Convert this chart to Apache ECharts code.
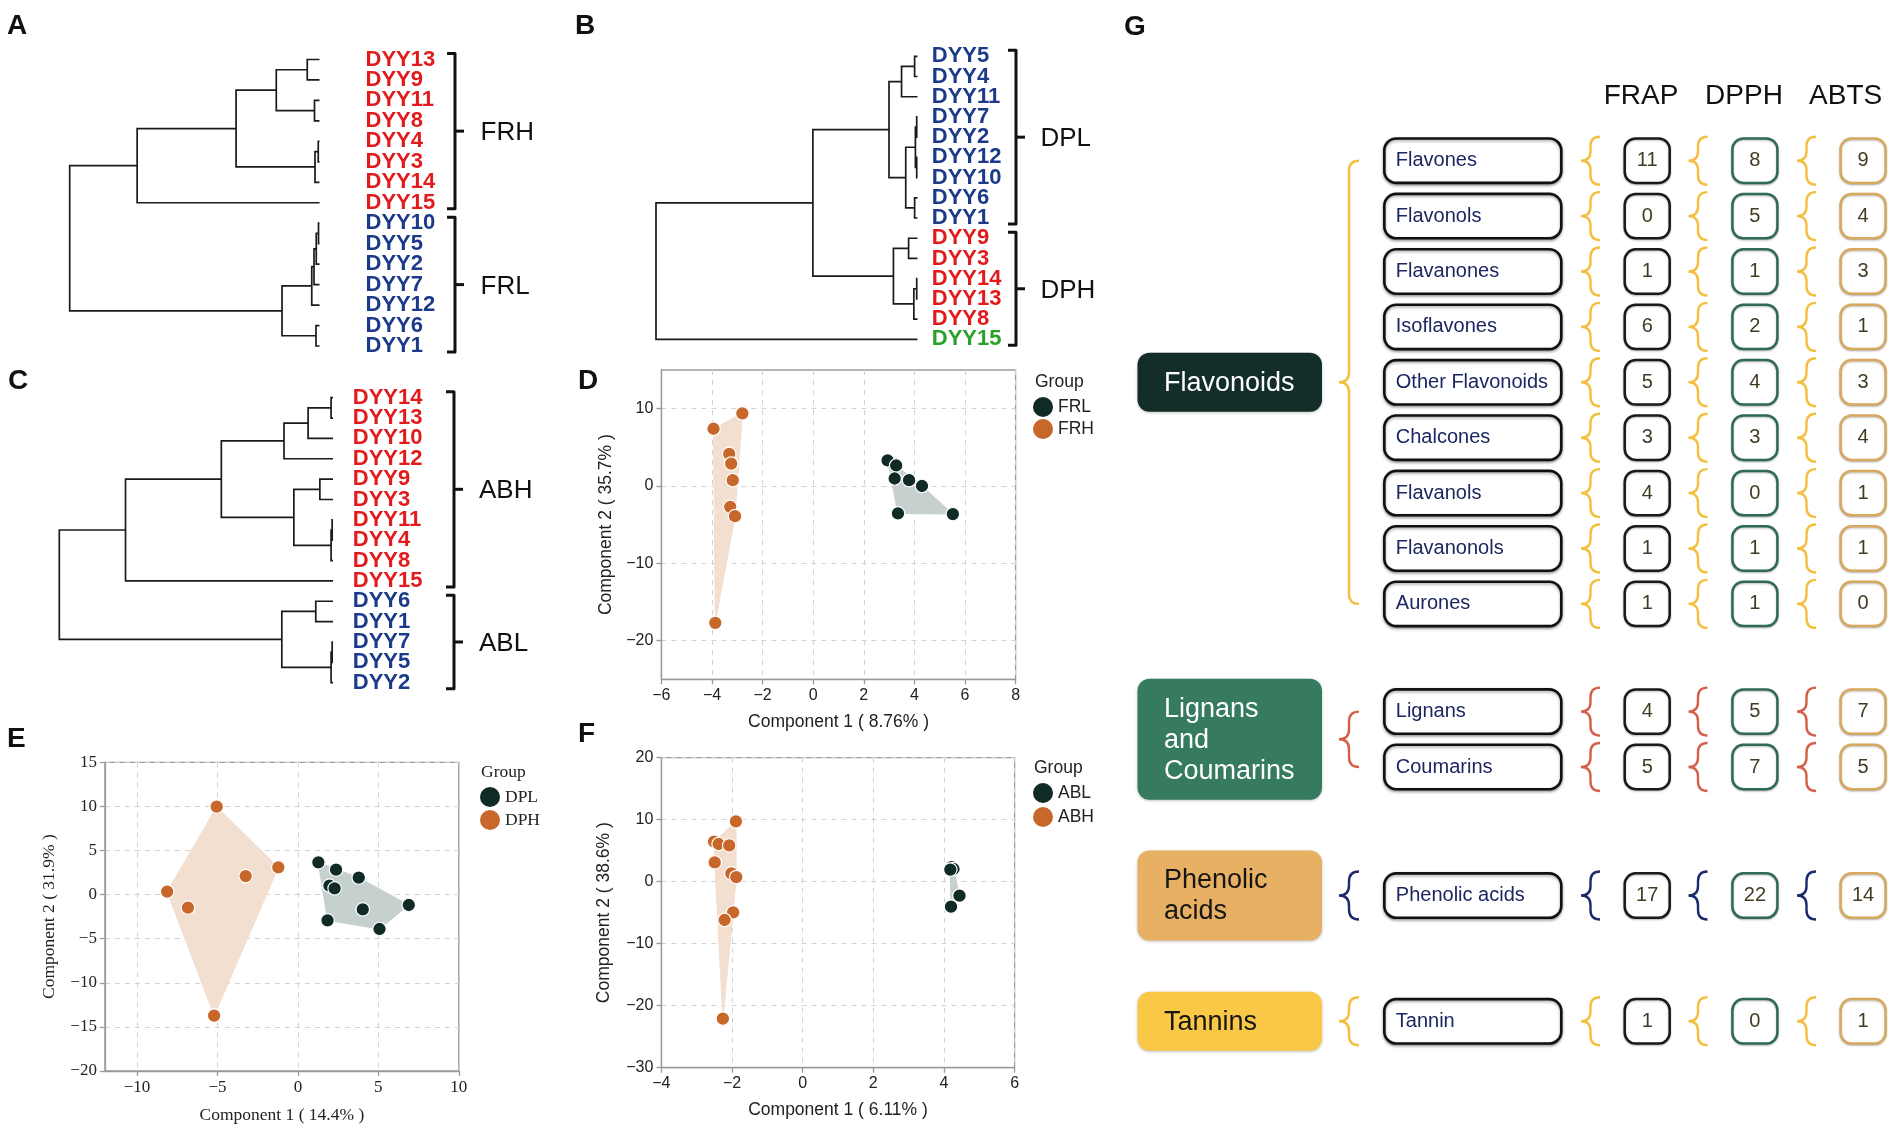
<!DOCTYPE html>
<html>
<head>
<meta charset="utf-8">
<script src="https://cdn.jsdelivr.net/npm/echarts@6.0.0/dist/echarts.min.js"></script>
<style>
html,body{margin:0;padding:0;background:#ffffff;}
#chart{width:1902px;height:1130px;}
</style>
</head>
<body>
<div id="chart"></div>
<script>
// ================= DATA =================
// Panel A : FRAP clustering
const aLeaves = ['DYY13','DYY9','DYY11','DYY8','DYY4','DYY3','DYY14','DYY15','DYY10','DYY5','DYY2','DYY7','DYY12','DYY6','DYY1'];
const aLeafClass = ['H','H','H','H','H','H','H','H','L','L','L','L','L','L','L'];
const aMerges = [['DYY13','DYY9',4.9],['DYY11','DYY8',2.0],[0,1,17.3],['DYY4','DYY3',0.5],[3,'DYY14',1.8],[2,4,33.4],[5,'DYY15',73.0],
                 ['DYY10','DYY5',0.4],[7,'DYY2',1.3],[8,'DYY7',2.2],[9,'DYY12',3.1],['DYY6','DYY1',1.4],[10,11,15.0],[6,12,100]];
const aGroupNames = ['FRH','FRL'];
const aGroupRanges = [[0,7],[8,14]];

// Panel B : DPPH clustering
const bLeaves = ['DYY5','DYY4','DYY11','DYY7','DYY2','DYY12','DYY10','DYY6','DYY1','DYY9','DYY3','DYY14','DYY13','DYY8','DYY15'];
const bLeafClass = ['L','L','L','L','L','L','L','L','L','H','H','H','H','H','O'];
const bMerges = [['DYY5','DYY4',1.1],[0,'DYY11',6.1],['DYY7','DYY2',0.3],['DYY12','DYY10',0.3],[2,3,0.8],['DYY6','DYY1',1.1],[4,5,4.5],[1,6,10.9],
                 ['DYY9','DYY3',3.4],['DYY14','DYY13',0.3],[9,'DYY8',1.4],[8,10,9.2],[7,11,40.0],[12,'DYY15',100]];
const bGroupNames = ['DPL','DPH'];
const bGroupRanges = [[0,8],[9,14]];

// Panel C : ABTS clustering
const cLeaves = ['DYY14','DYY13','DYY10','DYY12','DYY9','DYY3','DYY11','DYY4','DYY8','DYY15','DYY6','DYY1','DYY7','DYY5','DYY2'];
const cLeafClass = ['H','H','H','H','H','H','H','H','H','H','L','L','L','L','L'];
const cMerges = [['DYY14','DYY13',0.7],[0,'DYY10',9.1],[1,'DYY12',17.9],['DYY9','DYY3',4.8],['DYY11','DYY4',0.3],[4,'DYY8',0.7],[3,5,14.3],[2,6,40.8],[7,'DYY15',75.8],
                 ['DYY6','DYY1',6.3],['DYY7','DYY5',0.3],[10,'DYY2',0.7],[9,11,18.7],[8,12,100]];
const cGroupNames = ['ABH','ABL'];
const cGroupRanges = [[0,9],[10,14]];

// Panel D : PLS-DA FRAP
const dFRL = [[2.94,3.3],[3.28,2.65],[3.22,0.97],[3.79,0.75],[4.30,0.0],[3.35,-3.55],[5.52,-3.63]];
const dFRH = [[-3.94,7.4],[-2.80,9.4],[-3.32,4.15],[-3.24,2.9],[-3.18,0.75],[-3.28,-2.7],[-3.09,-3.9],[-3.87,-17.7]];
const dTicksX = [-6,-4,-2,0,2,4,6,8];
const dTicksY = [-20,-10,0,10];

// Panel E : PLS-DA DPPH
const eDPL = [[1.27,3.66],[2.37,2.83],[3.78,1.92],[1.96,1.01],[2.28,0.71],[6.89,-1.18],[4.03,-1.67],[1.84,-2.92],[5.07,-3.9]];
const eDPH = [[-5.05,9.97],[-1.22,3.09],[-3.25,2.1],[-8.13,0.33],[-6.84,-1.48],[-5.21,-13.73]];
const eTicksX = [-10,-5,0,5,10];
const eTicksY = [-20,-15,-10,-5,0,5,10,15];

// Panel F : PLS-DA ABTS
const fABL = [[4.22,2.35],[4.27,2.05],[4.18,1.95],[4.44,-2.26],[4.20,-4.03]];
const fABH = [[-1.89,9.73],[-2.51,6.45],[-2.38,6.08],[-2.08,5.86],[-2.49,3.12],[-2.02,1.34],[-1.88,0.75],[-1.97,-4.95],[-2.21,-6.18],[-2.26,-22.1]];
const fTicksX = [-4,-2,0,2,4,6];
const fTicksY = [-30,-20,-10,0,10,20];

// Panel G : compound classes
const groupNames = ['Flavonoids','Lignans\nand\nCoumarins','Phenolic\nacids','Tannins'];
const subNames = ['Flavones','Flavonols','Flavanones','Isoflavones','Other Flavonoids','Chalcones','Flavanols','Flavanonols','Aurones','Lignans','Coumarins','Phenolic acids','Tannin'];
const subGroup = [0,0,0,0,0,0,0,0,0,1,1,2,3];
const frap = [11,0,1,6,5,3,4,1,1,4,5,17,1];
const dpph = [8,5,1,2,4,3,0,1,1,5,7,22,0];
const abts = [9,4,3,1,3,4,1,1,0,7,5,14,1];
const assayNames = ['FRAP','DPPH','ABTS'];

// ================= STYLE / LAYOUT =================
const SANS = 'Liberation Sans, Arial, Helvetica, sans-serif';
const SERIF = 'Liberation Serif, Times New Roman, serif';
const classColor = {H:'#e31a1c', L:'#1b3a8a', O:'#2aa12a'};
const ORANGE = '#c8672a', DARK = '#102a26';
const HULL_OR = '#f3dfd0', HULL_DK = '#c6d0cf';

const dendroLayout = [
  {grid:{left:69.7, top:59.5, width:249.8, height:286.5}, labelMargin:46, bracketOffset:135.5, labelOffset:161},
  {grid:{left:656, top:56.3, width:261.5, height:283}, labelMargin:14.3, bracketOffset:98.5, labelOffset:123},
  {grid:{left:59.3, top:397.7, width:273.7, height:285}, labelMargin:19.8, bracketOffset:121, labelOffset:146}
];

const gLayout = {
  catX:17.5, catW:184.5, catPad:26.5,
  bigBraceX:219, braceW:20,
  subX:264.3, subW:177, subPad:11.5, boxH:44.4,
  braceXs:[461,568.5,677], smallBraceW:19, smallBraceH:48,
  numXs:[504.7,612.4,720.6], numW:45,
  headerXs:[521,624,725.6], headerPos:-1.155,
  rowGapExtra:[0,0.944,1.32,1.27],
  catColors:['#132d29','#367a60','#e7b063','#fac847'],
  catText:['#ffffff','#ffffff','#161616','#161616'],
  braceColors:['#f4bf3e','#d5604a','#1b2a6b','#f4bf3e'],
  numStroke:['#1a1a1a','#2f6b52','#d8a85e']
};

// ================= HELPERS =================
function buildLinks(leaves, merges){
  const pos = {}; leaves.forEach((l,i)=>{pos[l]={y:i,h:0};});
  const nodes = []; const links = [];
  const get = r => (typeof r === 'number') ? nodes[r] : pos[r];
  merges.forEach(m=>{
    const a = get(m[0]), b = get(m[1]), h = m[2];
    links.push([a.h, a.y, b.h, b.y, h]);
    nodes.push({y:(a.y+b.y)/2, h:h});
  });
  return links;
}
function convexHull(pts){
  const p = pts.slice().sort((a,b)=>a[0]-b[0]||a[1]-b[1]);
  const cross=(o,a,b)=>(a[0]-o[0])*(b[1]-o[1])-(a[1]-o[1])*(b[0]-o[0]);
  const lower=[]; for(const q of p){while(lower.length>=2&&cross(lower[lower.length-2],lower[lower.length-1],q)<=0)lower.pop();lower.push(q);}
  const upper=[]; for(let i=p.length-1;i>=0;i--){const q=p[i];while(upper.length>=2&&cross(upper[upper.length-2],upper[upper.length-1],q)<=0)upper.pop();upper.push(q);}
  upper.pop(); lower.pop(); return lower.concat(upper);
}
const minusFmt = v => (v<0 ? '\u2212'+Math.abs(v) : String(v));
function braceD(x0, yTop, yBot, w){
  const xm = x0 + w*0.5, x1 = x0 + w, mid = (yTop+yBot)/2;
  const r = Math.min(w*0.5, (yBot-yTop)/4);
  return 'M'+x1+','+yTop+' Q'+xm+','+yTop+' '+xm+','+(yTop+r)+' L'+xm+','+(mid-r)+' Q'+xm+','+mid+' '+x0+','+mid+
         ' Q'+xm+','+mid+' '+xm+','+(mid+r)+' L'+xm+','+(yBot-r)+' Q'+xm+','+yBot+' '+x1+','+yBot;
}

// ================= BUILD OPTION =================
const grids = [], xAxes = [], yAxes = [], series = [];
const dendros = [
  {leaves:aLeaves, cls:aLeafClass, merges:aMerges, gn:aGroupNames, gr:aGroupRanges},
  {leaves:bLeaves, cls:bLeafClass, merges:bMerges, gn:bGroupNames, gr:bGroupRanges},
  {leaves:cLeaves, cls:cLeafClass, merges:cMerges, gn:cGroupNames, gr:cGroupRanges}
];
dendros.forEach((d,i)=>{
  const L = dendroLayout[i];
  grids.push(Object.assign({outerBoundsMode:'none', containLabel:false}, L.grid));
  xAxes.push({type:'value', gridIndex:i, min:0, max:100, inverse:true, show:false});
  yAxes.push({type:'value', gridIndex:i, min:0, max:d.leaves.length-1, inverse:true, show:false});
  yAxes.push({type:'category', gridIndex:i, data:d.leaves, inverse:true, boundaryGap:false, position:'right',
    axisLine:{show:false}, axisTick:{show:false}, splitLine:{show:false},
    axisLabel:{show:true, interval:0, margin:L.labelMargin, fontSize:22, fontWeight:'bold', fontFamily:SANS,
      color:(v,idx)=>classColor[d.cls[d.leaves.indexOf(v)]]}});
  series.push({type:'custom', xAxisIndex:i, yAxisIndex:i*2, clip:false, silent:true, data:buildLinks(d.leaves,d.merges),
    renderItem:(params, api)=>{
      const p1=api.coord([api.value(0),api.value(1)]), p2=api.coord([api.value(4),api.value(1)]);
      const p3=api.coord([api.value(4),api.value(3)]), p4=api.coord([api.value(2),api.value(3)]);
      return {type:'polyline', shape:{points:[p1,p2,p3,p4]}, style:{stroke:'#1a1a1a', lineWidth:1.7, fill:'none'}};
    }});
  series.push({type:'custom', xAxisIndex:i, yAxisIndex:i*2, clip:false, silent:true, data:d.gr,
    renderItem:(params, api)=>{
      const s=api.value(0), e=api.value(1);
      const base=api.coord([0,s]); const x=base[0]+L.bracketOffset;
      const top=base[1]-6, bot=api.coord([0,e])[1]+6, mid=(top+bot)/2;
      return {type:'group', children:[
        {type:'polyline', shape:{points:[[x-8,top],[x,top],[x,bot],[x-8,bot]]}, style:{stroke:'#111', lineWidth:3, fill:'none', lineJoin:'round'}},
        {type:'line', shape:{x1:x, y1:mid, x2:x+9, y2:mid}, style:{stroke:'#111', lineWidth:3}},
        {type:'text', x:base[0]+L.labelOffset, y:mid+2, style:{text:d.gn[params.dataIndex], fontSize:26, fontFamily:SANS, fill:'#111', align:'left', verticalAlign:'middle'}}
      ]};
    }});
});

// scatter panels
const scatters = [
  {grid:{left:661.4, top:370, width:354.2, height:309.3}, font:SANS, fs:16, nfs:17.5,
   x:{min:-6,max:8,ticks:dTicksX}, y:{min:-25,max:15,ticks:dTicksY},
   xName:'Component 1 ( 8.76% )', yName:'Component 2 ( 35.7% )', xGap:34, yGap:46,
   dark:{name:'FRL', data:dFRL}, orange:{name:'FRH', data:dFRH}},
  {grid:{left:104.9, top:762.3, width:353.9, height:308.7}, font:SERIF, fs:17, nfs:17.5,
   x:{min:-12,max:10,ticks:eTicksX}, y:{min:-20,max:15,ticks:eTicksY},
   xName:'Component 1 ( 14.4% )', yName:'Component 2 ( 31.9% )', xGap:35, yGap:46,
   dark:{name:'DPL', data:eDPL}, orange:{name:'DPH', data:eDPH}},
  {grid:{left:661.4, top:757.7, width:353.2, height:310}, font:SANS, fs:16, nfs:17.5,
   x:{min:-4,max:6,ticks:fTicksX}, y:{min:-30,max:20,ticks:fTicksY},
   xName:'Component 1 ( 6.11% )', yName:'Component 2 ( 38.6% )', xGap:33, yGap:48,
   dark:{name:'ABL', data:fABL}, orange:{name:'ABH', data:fABH}}
];
const AX = '#9a9a9a';
scatters.forEach((s,k)=>{
  const gi = 3+k, yi = 6+k;
  grids.push(Object.assign({show:true, borderColor:AX, borderWidth:1.3, outerBoundsMode:'none', containLabel:false}, s.grid));
  const mk = (r, name, gap) => ({type:'value', gridIndex:gi, min:r.min, max:r.max, splitNumber:5,
    axisLine:{show:true, onZero:false, lineStyle:{color:AX, width:1.3}},
    axisTick:{show:true, length:5, customValues:r.ticks, lineStyle:{color:AX, width:1.3}},
    axisLabel:{show:true, customValues:r.ticks, fontSize:s.fs, fontFamily:s.font, color:'#222', margin:8, formatter:minusFmt},
    splitLine:{show:true, lineStyle:{type:[5,5], color:'#d2d2d2', width:1}},
    name:name, nameLocation:'middle', nameGap:gap, nameTextStyle:{fontSize:s.nfs, fontFamily:s.font, color:'#222'}});
  xAxes.push(mk(s.x, s.xName, s.xGap));
  yAxes.push(mk(s.y, s.yName, s.yGap));
  [[s.orange, HULL_OR],[s.dark, HULL_DK]].forEach(([grp, col])=>{
    const hull = convexHull(grp.data);
    series.push({type:'custom', xAxisIndex:gi, yAxisIndex:yi, silent:true, z:1, data:hull,
      renderItem:(params, api)=>{
        if(params.dataIndex!==0) return;
        return {type:'polygon', shape:{points:hull.map(p=>api.coord(p))}, style:{fill:col, stroke:col, lineWidth:1}};
      }});
  });
  [[s.dark, DARK],[s.orange, ORANGE]].forEach(([grp, col])=>{
    series.push({type:'scatter', name:grp.name, xAxisIndex:gi, yAxisIndex:yi, z:3, data:grp.data, symbol:'circle', symbolSize:13.5,
      itemStyle:{color:col, borderColor:'#ffffff', borderWidth:1.2, opacity:1}});
  });
});

// panel G
const G = gLayout;
grids.push({left:1120, top:160.7, width:782, height:886.4, outerBoundsMode:'none', containLabel:false});
xAxes.push({type:'value', gridIndex:6, min:0, max:782, show:false});
yAxes.push({type:'value', gridIndex:6, min:0, max:16, inverse:true, show:false});
let acc = 0;
const rowPos = subGroup.map((g,i)=>{ if(i>0){ acc += 1 + (g!==subGroup[i-1] ? G.rowGapExtra[g] : 0); } return acc; });
const groupCenter = groupNames.map((_,g)=>{ const r=rowPos.filter((p,i)=>subGroup[i]===g); return r.reduce((a,b)=>a+b,0)/r.length; });
const values = [frap, dpph, abts];

series.push({type:'custom', xAxisIndex:6, yAxisIndex:9, clip:false, silent:true, data:[[0,G.headerPos]],
  renderItem:(params, api)=>{
    const y = api.coord([0, api.value(1)])[1];
    return {type:'group', children:assayNames.map((t,c)=>({type:'text', x:api.coord([G.headerXs[c],0])[0], y:y,
      style:{text:t, fontSize:28, fontFamily:SANS, fill:'#111', align:'center', verticalAlign:'middle'}}))};
  }});
series.push({type:'custom', xAxisIndex:6, yAxisIndex:9, clip:false, silent:true, data:groupCenter.map(p=>[0,p]),
  renderItem:(params, api)=>{
    const g = params.dataIndex; const X = o=>api.coord([o,0])[0];
    const yc = api.coord([0, api.value(1)])[1];
    const lines = groupNames[g].split('\n').length; const h = 28 + 31*lines;
    const rows = rowPos.filter((p,i)=>subGroup[i]===g).map(p=>api.coord([0,p])[1]);
    let t = Math.min.apply(null, rows), b = Math.max.apply(null, rows);
    if (rows.length===1){ t -= 24; b += 24; }
    return {type:'group', children:[
      {type:'rect', shape:{x:X(G.catX), y:yc-h/2, width:G.catW, height:h, r:12}, style:{fill:G.catColors[g], shadowBlur:3, shadowColor:'rgba(0,0,0,0.25)', shadowOffsetY:1}},
      {type:'text', x:X(G.catX)+G.catPad, y:yc+1, style:{text:groupNames[g], fontSize:27, lineHeight:31, fontFamily:SANS, fill:G.catText[g], align:'left', verticalAlign:'middle'}},
      {type:'path', shape:{pathData:braceD(X(G.bigBraceX), t, b, G.braceW)}, style:{stroke:G.braceColors[g], lineWidth:2.4, fill:'none'}}
    ]};
  }});
series.push({type:'custom', xAxisIndex:6, yAxisIndex:9, clip:false, silent:true, data:rowPos.map(p=>[0,p]),
  renderItem:(params, api)=>{
    const i = params.dataIndex, g = subGroup[i]; const X = o=>api.coord([o,0])[0];
    const y = api.coord([0, api.value(1)])[1]; const h = G.boxH;
    const ch = [
      {type:'rect', shape:{x:X(G.subX), y:y-h/2, width:G.subW, height:h, r:12}, style:{fill:'#fff', stroke:'#111', lineWidth:2.6, shadowBlur:3, shadowColor:'rgba(0,0,0,0.35)', shadowOffsetY:1.5}},
      {type:'text', x:X(G.subX)+G.subPad, y:y, style:{text:subNames[i], fontSize:20, fontFamily:SANS, fill:'#1c2660', align:'left', verticalAlign:'middle'}}
    ];
    for(let c=0;c<3;c++){
      ch.push({type:'path', shape:{pathData:braceD(X(G.braceXs[c]), y-G.smallBraceH/2, y+G.smallBraceH/2, G.smallBraceW)}, style:{stroke:G.braceColors[g], lineWidth:2.4, fill:'none'}});
      ch.push({type:'rect', shape:{x:X(G.numXs[c]), y:y-h/2, width:G.numW, height:h, r:11}, style:{fill:'#fff', stroke:G.numStroke[c], lineWidth:2.5, shadowBlur:2, shadowColor:'rgba(0,0,0,0.25)', shadowOffsetY:1}});
      ch.push({type:'text', x:X(G.numXs[c])+G.numW/2, y:y, style:{text:String(values[c][i]), fontSize:20, fontFamily:SANS, fill:'#433a22', align:'center', verticalAlign:'middle'}});
    }
    return {type:'group', children:ch};
  }});

const letter = (t,l,tp)=>({text:t, left:l, top:tp, padding:0, textStyle:{fontSize:28, fontWeight:'bold', fontFamily:SANS, color:'#111'}});
const groupTitle = (l,tp,f)=>({text:'Group', left:l, top:tp, padding:0, textStyle:{fontSize:17.5, fontWeight:'normal', fontFamily:f, color:'#222'}});
const legend = (names,l,tp,gap,f)=>({data:names, left:l, top:tp, orient:'vertical', icon:'circle', itemWidth:20, itemHeight:20, itemGap:gap, padding:0,
  itemStyle:{borderWidth:0}, textStyle:{fontSize:17.5, fontFamily:f, color:'#222'}, selectedMode:false});

const option = {
  animation:false, backgroundColor:'#ffffff',
  title:[letter('A',7,12), letter('B',575,12), letter('C',8,367), letter('D',578,367), letter('E',7,725), letter('F',578,720), letter('G',1124,13),
         groupTitle(1035,373,SANS), groupTitle(481,763,SERIF), groupTitle(1034,759,SANS)],
  legend:[legend(['FRL','FRH'],1033,397,2,SANS), legend(['DPL','DPH'],480,787,3,SERIF), legend(['ABL','ABH'],1033,783,4,SANS)],
  grid:grids, xAxis:xAxes, yAxis:yAxes, series:series
};
const chart = echarts.init(document.getElementById('chart'), null, {renderer:'canvas'});
chart.setOption(option);
</script>
</body>
</html>
